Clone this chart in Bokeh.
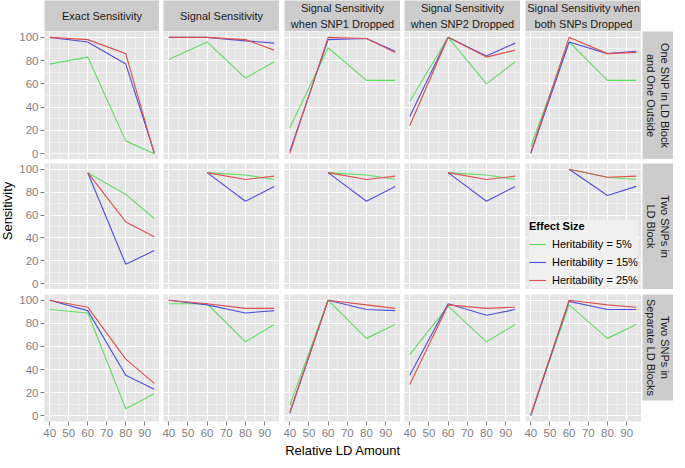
import numpy as np
from bokeh.plotting import figure
from bokeh.models import (Range1d, FixedTicker, LinearAxis, Grid, GridBox,
                          Legend, LegendItem)
from bokeh.embed import file_html
from bokeh.resources import INLINE
from bokeh.core.properties import value

# ---------------- data ----------------
ld_amount = [40, 60, 80, 95]
col_labels = ["Exact Sensitivity", "Signal Sensitivity",
              "Signal Sensitivity\nwhen SNP1 Dropped",
              "Signal Sensitivity\nwhen SNP2 Dropped",
              "Signal Sensitivity when\nboth SNPs Dropped"]
row_labels = ["One SNP in LD Block\nand One Outside",
              "Two SNPs in\nLD Block",
              "Two SNPs in\nSeparate LD Blocks"]
series_labels = ["Heritability = 5%", "Heritability = 15%", "Heritability = 25%"]
x_ticks = [40, 50, 60, 70, 80, 90]
x_minor = [45, 55, 65, 75, 85, 95]
y_ticks = [0, 20, 40, 60, 80, 100]
y_minor = [10, 30, 50, 70, 90]
nan = float("nan")

# row 1: One SNP in LD Block and One Outside  (h5, h15, h25)
r1_exact = [[77, 83, 11, 0], [100, 96, 77, 1], [100, 98, 86, 0]]
r1_signal = [[81, 96, 65, 79], [100, 100, 97, 95], [100, 100, 98, 89]]
r1_snp1 = [[22, 91, 63, 63], [2, 98, 99, 88], [0, 100, 99, 87]]
r1_snp2 = [[45, 100, 60, 79], [32, 100, 84, 95], [24, 100, 83, 89]]
r1_both = [[6, 96, 63, 63], [0, 96, 86, 88], [1, 100, 86, 87]]
# row 2: Two SNPs in LD Block
r2_exact = [[nan, 97, 78, 57], [nan, 97, 17, 29], [nan, 97, 54, 41]]
r2_signal = [[nan, 97, 95, 91], [nan, 97, 72, 85], [nan, 97, 91, 94]]
r2_snp1 = [[nan, 97, 95, 91], [nan, 97, 72, 85], [nan, 97, 91, 94]]
r2_snp2 = [[nan, 97, 95, 91], [nan, 97, 72, 85], [nan, 97, 91, 94]]
r2_both = [[nan, 100, 93, 91], [nan, 100, 77, 85], [nan, 100, 93, 94]]
# row 3: Two SNPs in Separate LD Blocks
r3_exact = [[92, 89, 6, 19], [100, 91, 35, 23], [100, 94, 49, 28]]
r3_signal = [[97, 97, 64, 79], [100, 96, 89, 91], [100, 97, 93, 93]]
r3_snp1 = [[9, 100, 67, 79], [2, 100, 92, 91], [3, 100, 96, 93]]
r3_snp2 = [[53, 95, 64, 79], [35, 97, 87, 92], [27, 96, 93, 94]]
r3_both = [[1, 96, 67, 79], [0, 99, 92, 92], [1, 100, 96, 94]]

panels = [[r1_exact, r1_signal, r1_snp1, r1_snp2, r1_both],
          [r2_exact, r2_signal, r2_snp1, r2_snp2, r2_both],
          [r3_exact, r3_signal, r3_snp1, r3_snp2, r3_both]]

colors = ["#5EE05E", "#5050E0", "#E05050"]

# ---------------- layout ----------------
FONT_NAME = "Liberation Sans"
FONT = value(FONT_NAME)
PANEL_W = 116
ROW_H = [128, 126, 127]
COL_GAP = [27, 4, 5, 4, 5]    # left border of each panel column
ROW_GAP = [0, 4, 5]
BOTTOM_AXIS = 21
YLAB_W = 16
STRIP_H = 31
RSTRIP_W = 31
PANEL_BG = "#E5E5E5"
STRIP_BG = "#CCCCCC"


def bare(width, height, ml=0, mr=0, mt=0, mb=0, bg=STRIP_BG):
    f = figure(width=width, height=height, x_range=Range1d(0, 1), y_range=Range1d(0, 1),
               x_axis_location=None, y_axis_location=None, toolbar_location=None,
               output_backend="svg", min_border_left=ml, min_border_right=mr,
               min_border_top=mt, min_border_bottom=mb,
               background_fill_color=bg, border_fill_color="white",
               outline_line_color=None)
    f.xgrid.visible = False
    f.ygrid.visible = False
    return f


children = []

# y-axis title
ylab_h = STRIP_H + sum(ROW_H) + sum(ROW_GAP) + BOTTOM_AXIS
ylab = bare(YLAB_W, ylab_h, bg="white")
ylab.text(x=[0.45], y=[0.5], text=["Sensitivity"], angle=np.pi / 2,
          text_align="center", text_baseline="middle", text_font=FONT,
          text_font_size="13px", text_color="#000000")
children.append((ylab, 0, 0, 4, 1))

# top strips
for c, lab in enumerate(col_labels):
    s = bare(COL_GAP[c] + PANEL_W, STRIP_H, ml=COL_GAP[c])
    s.text(x=[0.5], y=[0.5], text=[lab], text_align="center", text_baseline="middle",
           text_font=FONT, text_font_size="11px", text_color="#1A1A1A",
           text_line_height=1.3)
    children.append((s, 0, c + 1))

# panels
for r in range(3):
    for c in range(5):
        mb = BOTTOM_AXIS if r == 2 else 0
        p = figure(width=COL_GAP[c] + PANEL_W, height=ROW_GAP[r] + ROW_H[r] + mb,
                   x_range=Range1d(37.25, 97.75), y_range=Range1d(-5, 105),
                   x_axis_location=None, y_axis_location=None, toolbar_location=None,
                   output_backend="svg", min_border_left=COL_GAP[c], min_border_right=0,
                   min_border_top=ROW_GAP[r], min_border_bottom=mb,
                   background_fill_color=PANEL_BG, border_fill_color="white",
                   outline_line_color=None)
        p.add_layout(Grid(dimension=0, ticker=FixedTicker(ticks=x_ticks, minor_ticks=x_minor),
                          grid_line_color="white", grid_line_width=1.2,
                          minor_grid_line_color="#F3F3F3", minor_grid_line_width=0.7))
        p.add_layout(Grid(dimension=1, ticker=FixedTicker(ticks=y_ticks, minor_ticks=y_minor),
                          grid_line_color="white", grid_line_width=1.2,
                          minor_grid_line_color="#F3F3F3", minor_grid_line_width=0.7))
        if c == 0:
            ax = LinearAxis(ticker=FixedTicker(ticks=y_ticks))
            ax.axis_line_color = None
            ax.major_tick_line_color = "#7F7F7F"
            ax.major_tick_in = 0
            ax.major_tick_out = 4
            ax.minor_tick_line_color = None
            ax.major_label_standoff = 2
            ax.major_label_text_color = "#7F7F7F"
            ax.major_label_text_font = FONT_NAME
            ax.major_label_text_font_size = "11.5px"
            p.add_layout(ax, "left")
        if r == 2:
            ax = LinearAxis(ticker=FixedTicker(ticks=x_ticks))
            ax.axis_line_color = None
            ax.major_tick_line_color = "#7F7F7F"
            ax.major_tick_in = 0
            ax.major_tick_out = 4
            ax.minor_tick_line_color = None
            ax.major_label_standoff = 3
            ax.major_label_text_color = "#7F7F7F"
            ax.major_label_text_font = FONT_NAME
            ax.major_label_text_font_size = "11.5px"
            p.add_layout(ax, "below")
        rends = []
        for k in range(3):
            rends.append(p.line(x=ld_amount, y=panels[r][c][k], line_color=colors[k],
                                line_width=1.15))
        if r == 1 and c == 4:
            leg = Legend(items=[LegendItem(label=series_labels[k], renderers=[rends[k]])
                                for k in range(3)],
                         location=(4, 1), title="Effect Size",
                         title_text_font=FONT_NAME, title_text_font_style="bold",
                         title_text_font_size="11px", title_text_color="#000000",
                         title_standoff=4,
                         label_text_font=FONT_NAME, label_text_font_size="11px",
                         label_text_color="#000000",
                         glyph_width=17, glyph_height=16, label_height=16,
                         label_standoff=6, spacing=2, padding=3, margin=0,
                         background_fill_color="#F0F0F0", background_fill_alpha=1.0,
                         border_line_color=None)
            p.add_layout(leg)
        children.append((p, r + 1, c + 1))

# right strips
for r, lab in enumerate(row_labels):
    s = bare(1 + RSTRIP_W, ROW_GAP[r] + ROW_H[r], ml=1, mt=ROW_GAP[r])
    s.text(x=[0.5], y=[0.5], text=[lab], angle=-np.pi / 2,
           text_align="center", text_baseline="middle", text_font=FONT,
           text_font_size="11px", text_color="#1A1A1A", text_line_height=1.2)
    children.append((s, r + 1, 6))

# x-axis title
xlab_w = sum(COL_GAP) + 5 * PANEL_W
xlab = bare(xlab_w, 16, ml=COL_GAP[0], bg="white")
xlab.text(x=[0.5], y=[0.5], text=["Relative LD Amount"], text_align="center",
          text_baseline="middle", text_font=FONT, text_font_size="13px",
          text_color="#000000")
children.append((xlab, 4, 1, 1, 5))

grid = GridBox(children=children, spacing=0)
open("out.html", "w").write(file_html(grid, INLINE))
